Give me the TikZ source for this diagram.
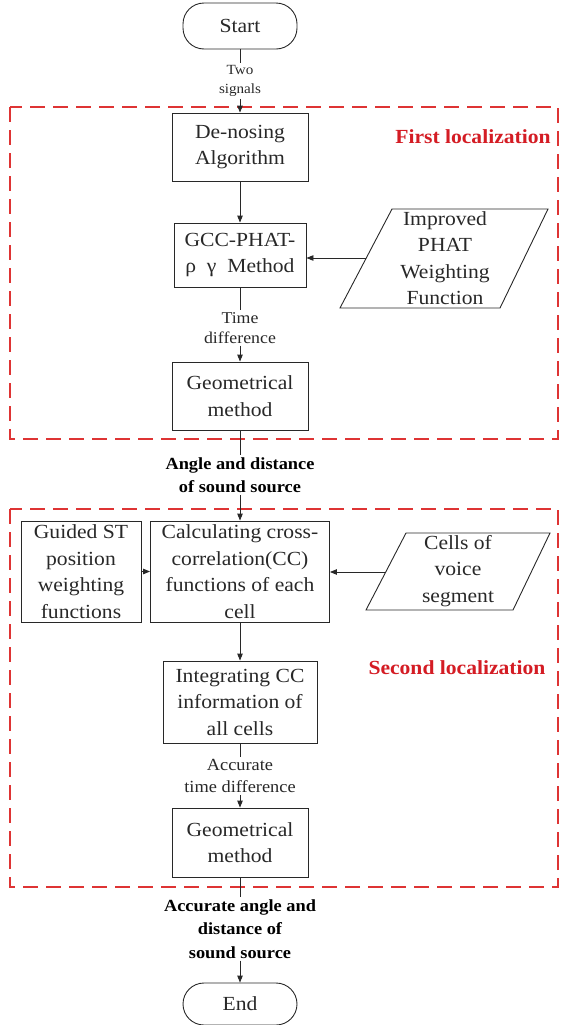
\documentclass[tikz,border=0pt]{standalone}
\usepackage{fontspec}
\setmainfont[FakeStretch=1.08]{Liberation Serif}
\usetikzlibrary{arrows.meta}
\definecolor{redline}{RGB}{222,52,52}
\definecolor{redtext}{RGB}{212,28,36}
\definecolor{ink}{RGB}{40,40,40}
\begin{document}
\begin{tikzpicture}[x=1bp,y=-1bp,
  box/.style={draw=ink, line width=0.9bp, text=ink, inner sep=0pt, align=center,
    font=\fontsize{20bp}{26.5bp}\selectfont},
  pill/.style={box, rounded corners=21bp},
  ptext/.style={text=ink, inner sep=0pt, align=center, font=\fontsize{20bp}{26.5bp}\selectfont},
  lab/.style={text=ink, inner sep=2bp, align=center},
  blab/.style={text=black, inner sep=2bp, align=center, font=\fontsize{17bp}{23.5bp}\selectfont\bfseries},
  region/.style={draw=redline, line width=1.8bp, dash pattern=on 15bp off 8bp},
  title/.style={text=redtext, font=\fontsize{20bp}{24bp}\selectfont\bfseries},
  conn/.style={draw=ink, line width=0.9bp},
  arr/.style={conn, -{Triangle[length=7bp,width=5.5bp]}},
  para/.style={draw=ink, line width=0.9bp}
]
\path[use as bounding box] (0,0) rectangle (563,1025);

% dashed regions
\draw[region] (10,107) rectangle (558,439);
\draw[region] (10,509) rectangle (558,887);
\node[title] (t1) at (473,137) {First localization};
\node[title] (t2) at (457,668) {Second localization};

% nodes
\node[pill, minimum width=114bp, minimum height=46bp] (start) at (240,26) {Start};
\node[lab, font=\fontsize{14bp}{19bp}\selectfont] (l1) at (240,81) {Two\\signals};
\node[box, minimum width=136bp, minimum height=68bp] (den) at (240,147) {De-nosing\\Algorithm};
\node[box, minimum width=132bp, minimum height=64bp] (gcc) at (240,255) {GCC-PHAT-\\ρ\ \ γ\ \ Method};
\draw[para] (392,209) -- (548,209) -- (500,308) -- (340,308) -- cycle;
\coordinate (impL) at (366,258);
\node[ptext] (imp) at (445,258) {Improved\\PHAT\\Weighting\\Function};
\node[lab, font=\fontsize{16.5bp}{20bp}\selectfont] (l2) at (240,328) {Time\\difference};
\node[box, minimum width=136bp, minimum height=68bp] (geo1) at (240,396) {Geometrical\\method};
\node[blab] (l3) at (240,475) {Angle and distance\\of sound source};

\node[box, minimum width=120bp, minimum height=101bp] (gui) at (81,571.5) {Guided ST\\position\\weighting\\functions};
\node[box, minimum width=179bp, minimum height=101bp] (calc) at (240,571.5) {Calculating cross-\\correlation(CC)\\functions of each\\cell};
\draw[para] (406,533) -- (550,533) -- (513,610) -- (366,610) -- cycle;
\coordinate (celL) at (386,572);
\node[ptext] (cel) at (458,571) {Cells of\\voice\\segment};
\node[box, minimum width=154bp, minimum height=82bp] (int) at (240,702) {Integrating CC\\information of\\all cells};
\node[lab, font=\fontsize{17bp}{22bp}\selectfont] (l4) at (240,776) {Accurate\\time difference};
\node[box, minimum width=136bp, minimum height=69bp] (geo2) at (240,842.5) {Geometrical\\method};
\node[blab] (l5) at (240,929) {Accurate angle and\\distance of\\sound source};
\node[pill, minimum width=114bp, minimum height=42bp] (end) at (240,1004) {End};

% connectors
\draw[conn] (start) -- (l1);
\draw[arr] (l1) -- (den);
\draw[arr] (den) -- (gcc);
\draw[arr] (impL) -- (impL -| gcc.east);
\draw[conn] (gcc) -- (l2);
\draw[arr] (l2) -- (geo1);
\draw[conn] (geo1) -- (l3);
\draw[arr] (l3) -- (calc);
\draw[arr] (gui) -- (calc);
\draw[arr] (celL) -- (celL -| calc.east);
\draw[arr] (calc) -- (int);
\draw[conn] (int) -- (l4);
\draw[arr] (l4) -- (geo2);
\draw[conn] (geo2) -- (l5);
\draw[arr] (l5) -- (end);
\end{tikzpicture}
\end{document}
